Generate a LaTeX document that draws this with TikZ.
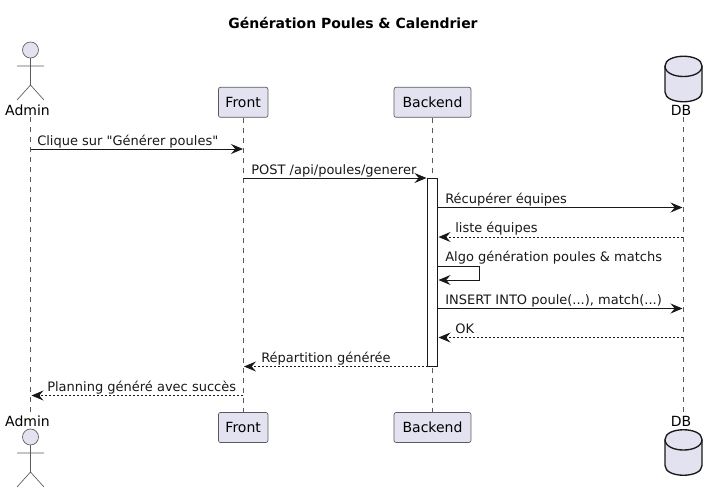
\documentclass[tikz,border=0pt]{standalone}
\usepackage{fontspec}
\setmainfont[Ligatures=TeXOff]{DejaVu Sans}
\usetikzlibrary{arrows.meta}
\definecolor{partfill}{HTML}{E2E2F0}
\definecolor{partline}{HTML}{5A5A5A}
\definecolor{arrowcol}{HTML}{181818}
\tikzset{
  px/.style={x=0.75pt,y=-0.75pt},
  part/.style={draw=partline,fill=partfill,rounded corners=1.5pt,line width=0.5pt,
    inner sep=0pt,minimum height=22.5pt,font=\fontsize{10.5}{12}\selectfont},
  actorlabel/.style={inner sep=0pt,font=\fontsize{10.5}{12}\selectfont,anchor=base},
  actorline/.style={draw=partline,fill=partfill,line width=0.5pt},
  lifeline/.style={draw=partline,line width=0.45pt,dash pattern=on 3.75pt off 3.75pt},
  msglabel/.style={inner sep=0pt,anchor=base west,text=arrowcol,font=\fontsize{9.75}{12}\selectfont},
  syncmsg/.style={draw=arrowcol,line width=0.75pt,-{Stealth[length=9pt,width=7.5pt,inset=3.2pt]}},
  replymsg/.style={draw=arrowcol,line width=0.6pt,dash pattern=on 1.5pt off 1.5pt,
    -{Stealth[length=9pt,width=7.5pt,inset=3.2pt,line width=0.6pt,sep=0pt]}},
  activation/.style={draw=arrowcol,fill=white,line width=0.75pt},
  dbbody/.style={draw=arrowcol,fill=partfill,line width=1pt,line join=round},
}
\newcommand{\actorfig}[2]{% x, head centre y
  \draw[actorline] (#1,#2) circle (8);
  \draw[actorline,fill=none] (#1,#2+8) -- (#1,#2+35)
    (#1-13.5,#2+16) -- (#1+13.5,#2+16)
    (#1-13.5,#2+50) -- (#1,#2+35) -- (#1+13.5,#2+50);
}
\newcommand{\dbfig}[2]{% centre x, top y
  \draw[dbbody] (#1-18.5,#2+10) .. controls (#1-18.5,#2-3) and (#1+18.5,#2-3) .. (#1+18.5,#2+10)
    -- (#1+18.5,#2+36) .. controls (#1+18.5,#2+49) and (#1-18.5,#2+49) .. (#1-18.5,#2+36) -- cycle;
  \draw[dbbody,fill=none] (#1-18.5,#2+10) .. controls (#1-18.5,#2+24) and (#1+18.5,#2+24) .. (#1+18.5,#2+10);
}
\begin{document}
\begin{tikzpicture}[px]
\useasboundingbox (0,0) rectangle (717,493);
\node[inner sep=0pt,anchor=base,font=\bfseries\fontsize{10.5}{12}\selectfont] (title) at (353,28) {Génération Poules \& Calendrier};

% lifeline ends
\coordinate (adminTopEnd) at (30.5,117);
\coordinate (adminBotEnd) at (30.5,413);
\coordinate (dbTopEnd) at (683.5,117);
\coordinate (dbBotEnd) at (683.5,413);

% participants
\node[part,minimum width=37.1pt] (frontTop) at (243.2,102.3) {Front};
\node[part,minimum width=37.1pt] (frontBot) at (243.2,427.5) {Front};
\node[part,minimum width=57.7pt] (backTop) at (432.5,102.3) {Backend};
\node[part,minimum width=57.7pt] (backBot) at (432.5,427.5) {Backend};

% lifelines
\draw[lifeline] (adminTopEnd) -- (adminBotEnd);
\draw[lifeline] (frontTop) -- (frontBot);
\draw[lifeline] (backTop) -- (backBot);
\draw[lifeline] (dbTopEnd) -- (dbBotEnd);

% actors and database
\actorfig{30.5}{50}
\actorfig{30.5}{437}
\node[actorlabel] (adminTop) at (27.5,115.5) {Admin};
\node[actorlabel] (adminBot) at (27.5,426.5) {Admin};
\dbfig{683.5}{56}
\dbfig{683.5}{429.5}
\node[actorlabel] (dbTop) at (681,115.5) {DB};
\node[actorlabel] (dbBot) at (681,426.5) {DB};

% activation
\node[activation,minimum width=7.5pt,minimum height=141pt,inner sep=0pt] (act) at (432.5,272.2) {};

% message ends
\coordinate (m1a) at (30.5,149);   \coordinate (m1b) at (243,149);
\coordinate (m2a) at (243,178);    \coordinate (m2b) at (426.5,178);
\coordinate (m3a) at (437.5,207.5);\coordinate (m3b) at (682.5,207.5);
\coordinate (m4a) at (683,237);    \coordinate (m4b) at (438.5,237);
\coordinate (m5a) at (437.5,266);  \coordinate (m5c) at (479.5,266);
\coordinate (m5d) at (479.5,280);  \coordinate (m5b) at (438.5,280);
\coordinate (m6a) at (437.5,308.5);\coordinate (m6b) at (682.5,308.5);
\coordinate (m7a) at (683,337.5);  \coordinate (m7b) at (438.5,337.5);
\coordinate (m8a) at (427.5,366.5);\coordinate (m8b) at (244,366.5);
\coordinate (m9a) at (243,395.5);  \coordinate (m9b) at (31.5,395.5);

\draw[syncmsg] (m1a) -- (m1b);
\draw[syncmsg] (m2a) -- (m2b);
\draw[syncmsg] (m3a) -- (m3b);
\draw[replymsg] (m4a) -- (m4b);
\draw[syncmsg] (m5a) -- (m5c) -- (m5d) -- (m5b);
\draw[syncmsg] (m6a) -- (m6b);
\draw[replymsg] (m7a) -- (m7b);
\draw[replymsg] (m8a) -- (m8b);
\draw[replymsg] (m9a) -- (m9b);

% message labels
\node[msglabel] (l1) at (37,145) {Clique sur "Générer poules"};
\node[msglabel] (l2) at (251,174) {POST /api/poules/generer};
\node[msglabel] (l3) at (445,203.5) {Récupérer équipes};
\node[msglabel] (l4) at (455,232.5) {liste équipes};
\node[msglabel] (l5) at (445,261.5) {Algo génération poules \& matchs};
\node[msglabel] (l6) at (445,304) {INSERT INTO poule(...), match(...)};
\node[msglabel] (l7) at (455,333) {OK};
\node[msglabel] (l8) at (261,362) {Répartition générée};
\node[msglabel] (l9) at (47,391) {Planning généré avec succès};
\end{tikzpicture}
\end{document}
